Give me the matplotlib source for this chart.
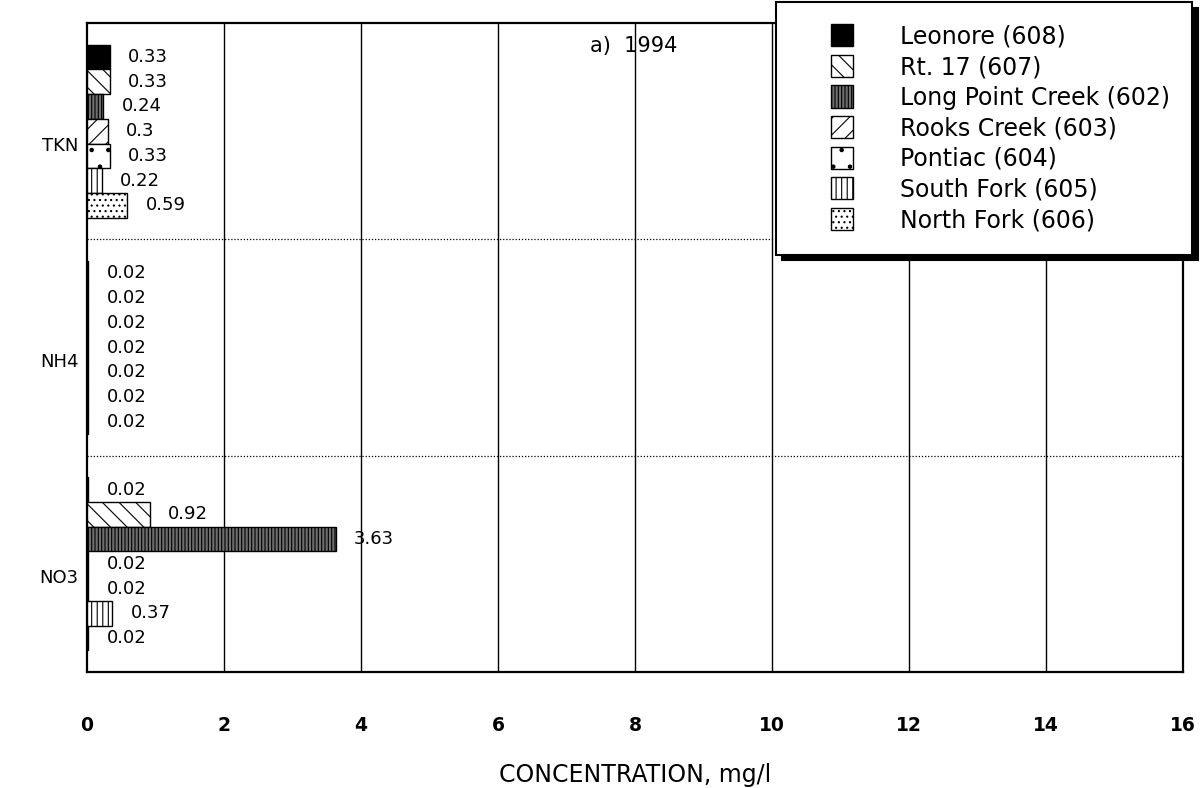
import matplotlib
matplotlib.use("Agg")
import matplotlib.pyplot as plt
import matplotlib.transforms as mtransforms
from matplotlib.patches import Rectangle
from matplotlib.legend_handler import HandlerPatch
import numpy as np

# Nitrogen species (top to bottom) and sampling stations (top to bottom within a group)
species = ["TKN", "NH4", "NO3"]
stations = ["Leonore (608)", "Rt. 17 (607)", "Long Point Creek (602)",
            "Rooks Creek (603)", "Pontiac (604)", "South Fork (605)",
            "North Fork (606)"]

# Concentrations, mg/l, one list per station in the order of `species`
leonore = [0.33, 0.02, 0.02]
rt17 = [0.33, 0.02, 0.92]
long_point = [0.24, 0.02, 3.63]
rooks = [0.30, 0.02, 0.02]
pontiac = [0.33, 0.02, 0.02]
south_fork = [0.22, 0.02, 0.37]
north_fork = [0.59, 0.02, 0.02]
series = [leonore, rt17, long_point, rooks, pontiac, south_fork, north_fork]

xticks = [0, 2, 4, 6, 8, 10, 12, 14, 16]

# Fill styles for each station
styles = [
    dict(facecolor="black", hatch=None),
    dict(facecolor="white", hatch="\\\\"),
    dict(facecolor="#6e6e6e", hatch="|||||"),
    dict(facecolor="white", hatch="//"),
    dict(facecolor="white", hatch="."),
    dict(facecolor="white", hatch="|||"),
    dict(facecolor="white", hatch="..."),
]

plt.rcParams["font.family"] = ["DejaVu Sans"]
plt.rcParams["hatch.linewidth"] = 0.8

fig = plt.figure(figsize=(12.02, 7.88), dpi=100)
ax = fig.add_axes([87 / 1202, 1 - 672 / 788, (1183 - 87) / 1202, (672 - 23) / 788])

n = len(stations)
group_w = 0.8
bar_h = group_w / n
centers = np.arange(len(species))

handles = []
for j, (name, vals, st) in enumerate(zip(stations, series, styles)):
    ypos = centers - group_w / 2 + (j + 0.5) * bar_h
    bars = ax.barh(ypos, vals, height=bar_h, facecolor=st["facecolor"],
                   hatch=st["hatch"], edgecolor="black", linewidth=1.0,
                   label=name, zorder=3)
    handles.append(bars[0])
    for y, v in zip(ypos, vals):
        ax.annotate(f"{v:g}", xy=(v, y), xytext=(13, 0),
                    textcoords="offset points", ha="left", va="center",
                    fontsize=13, zorder=4)

ax.set_xlim(0, 16)
ax.set_ylim(len(species) - 0.5, -0.5)

# Vertical grid lines and dotted separators between species groups
for x in xticks[1:-1]:
    ax.axvline(x, color="black", linewidth=1.0, zorder=1)
for b in centers[:-1] + 0.5:
    ax.axhline(b, color="black", linewidth=0.9, linestyle=(0, (1, 1.5)), zorder=1)

ax.set_xticks(xticks)
ax.set_xticklabels([str(t) for t in xticks], fontsize=13.5, fontweight="bold")
ax.tick_params(axis="x", length=0, pad=32)
ax.set_yticks(centers)
ax.set_yticklabels(species, fontsize=13)
ax.tick_params(axis="y", length=0, pad=6)
shift = mtransforms.ScaledTranslation(0, -9 / 72, fig.dpi_scale_trans)
for lab in ax.get_yticklabels():
    lab.set_transform(lab.get_transform() + shift)

ax.set_xlabel("CONCENTRATION, mg/l", fontsize=17, labelpad=20)

for sp in ax.spines.values():
    sp.set_linewidth(1.6)
    sp.set_color("black")

ax.text(7.35, 0.965, "a)  1994", transform=ax.get_xaxis_transform(),
        fontsize=15, ha="left", va="center", color="black")


class SquareHandler(HandlerPatch):
    """Legend key drawn as a square at the right end of the handle box."""
    def __init__(self, **kw):
        def make(legend, orig_handle, xdescent, ydescent, width, height, fontsize):
            side = height * 1.05
            return Rectangle((-xdescent + width - side, -ydescent - 0.025 * height),
                             side, side)
        super().__init__(patch_func=make, **kw)


leg = fig.legend(handles, stations, loc="upper left",
                 bbox_to_anchor=(776 / 1202, 1 - 2 / 788),
                 bbox_transform=fig.transFigure, borderaxespad=0,
                 fontsize=17, frameon=True, fancybox=False,
                 edgecolor="black", facecolor="white", framealpha=1,
                 borderpad=0.95, labelspacing=0.28, handlelength=2.3,
                 handleheight=1.0, handletextpad=2.0,
                 shadow={"ox": 4, "oy": -4, "facecolor": "black",
                         "edgecolor": "black", "alpha": 1},
                 handler_map={h: SquareHandler() for h in handles})
leg.get_frame().set_linewidth(1.5)

fig.savefig("out.png", dpi=100)
